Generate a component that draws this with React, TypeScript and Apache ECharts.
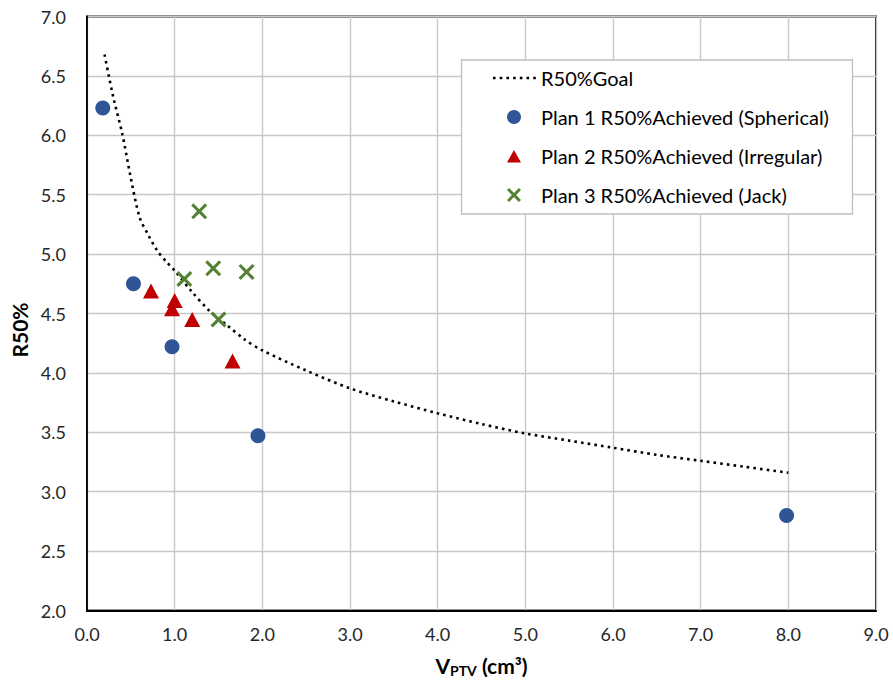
import React, { useEffect, useRef } from "react";
import * as echarts from "echarts";

const goalX = [0.2, 0.3, 0.4, 0.5, 0.6, 0.7, 0.8, 0.9, 1.0, 1.2, 1.4, 1.6, 1.8, 2.0, 2.5, 3.0, 3.5, 4.0, 4.5, 5.0, 5.5, 6.0, 6.5, 7.0, 7.5, 8.0];
const goalY = [6.68, 6.32, 6.02, 5.64, 5.31, 5.16, 5.03, 4.94, 4.86, 4.68, 4.52, 4.40, 4.28, 4.19, 4.02, 3.87, 3.76, 3.66, 3.57, 3.49, 3.43, 3.37, 3.31, 3.26, 3.21, 3.16];

const plan1X = [0.18, 0.53, 0.97, 1.95, 7.98];
const plan1Y = [6.23, 4.75, 4.22, 3.47, 2.80];

const plan2X = [0.73, 1.0, 0.97, 1.2, 1.66];
const plan2Y = [4.69, 4.61, 4.54, 4.45, 4.10];

const plan3X = [1.28, 1.11, 1.44, 1.82, 1.5];
const plan3Y = [5.36, 4.79, 4.88, 4.85, 4.45];

const seriesNames = [
  "R50%Goal",
  "Plan 1 R50%Achieved (Spherical)",
  "Plan 2 R50%Achieved (Irregular)",
  "Plan 3 R50%Achieved (Jack)",
];

const xTicks = [0, 1, 2, 3, 4, 5, 6, 7, 8, 9];
const yTicks = [2.0, 2.5, 3.0, 3.5, 4.0, 4.5, 5.0, 5.5, 6.0, 6.5, 7.0];

const BLUE = "#2F5597";
const RED = "#C00000";
const GREEN = "#548235";
const FONT = "Lato, 'Open Sans', sans-serif";

const xShape =
  "M2.2,0L8,5.8L13.8,0L16,2.2L10.2,8L16,13.8L13.8,16L8,10.2L2.2,16L0,13.8L5.8,8L0,2.2Z";
const ANCHORS = "M0,0L0.01,0M44,14L43.99,14";
const xLegend =
  "path://" +
  ANCHORS +
  "M17.1,0L22,4.9L26.9,0L29,2.1L24.1,7L29,11.9L26.9,14L22,9.1L17.1,14L15,11.9L19.9,7L15,2.1Z";
const triLegend = "path://" + ANCHORS + "M15,13.5L29,13.5L22,1Z";
const dotLegend =
  "path://" +
  ANCHORS +
  [0, 1, 2, 3, 4, 5, 6].map((i) => `M${(1 + i * 6.7).toFixed(2)},5.7h2.6v2.6h-2.6Z`).join("");

const zip = (xs: number[], ys: number[]) => xs.map((x, i) => [x, ys[i]]);

export default function App() {
  const ref = useRef<HTMLDivElement>(null);
  useEffect(() => {
    if (!ref.current) return;
    const chart = echarts.init(ref.current, null, { renderer: "svg" });
    chart.setOption({
      animation: false,
      backgroundColor: "#fff",
      textStyle: { fontFamily: FONT },
      grid: {
        left: 87,
        right: 17,
        top: 16.5,
        bottom: 78.5,
        show: true,
        borderColor: "#000",
        borderWidth: 1.8,
        containLabel: false,
      },
      xAxis: {
        type: "value",
        min: xTicks[0],
        max: xTicks[xTicks.length - 1],
        interval: 1,
        axisLine: { show: true, onZero: false, lineStyle: { color: "#000", width: 1.8 } },
        axisTick: { show: false },
        splitLine: { show: true, lineStyle: { color: "#c8c8c8", width: 1.4 } },
        axisLabel: {
          margin: 14,
          fontSize: 18,
          color: "#262626",
          fontFamily: FONT,
          formatter: (v: number) => v.toFixed(1),
        },
        name: "{v|V}{s|PTV}{v| (cm³)}",
        nameLocation: "middle",
        nameGap: 43,
        nameTextStyle: {
          rich: {
            v: { fontSize: 21, fontWeight: "bold", color: "#000", fontFamily: FONT },
            s: { fontSize: 14, fontWeight: "bold", color: "#000", fontFamily: FONT, padding: [10, 0, 0, 0] },
          },
        },
      },
      yAxis: {
        type: "value",
        min: yTicks[0],
        max: yTicks[yTicks.length - 1],
        interval: 0.5,
        axisLine: { show: true, onZero: false, lineStyle: { color: "#000", width: 1.8 } },
        axisTick: { show: false },
        splitLine: { show: true, lineStyle: { color: "#c8c8c8", width: 1.4 } },
        axisLabel: {
          margin: 21,
          fontSize: 18,
          color: "#262626",
          fontFamily: FONT,
          formatter: (v: number) => v.toFixed(1),
        },
        name: "{a|R50%}",
        nameLocation: "middle",
        nameGap: 57,
        nameTextStyle: {
          rich: {
            a: {
              fontSize: 21,
              fontWeight: "bold",
              color: "#000",
              fontFamily: FONT,
              padding: [0, 33, 0, 0],
            },
          },
        },
      },
      graphic: [
        {
          type: "rect",
          z: 3,
          shape: { x: 461.5, y: 60, width: 391, height: 154 },
          style: { fill: "#fff", stroke: "#bfbfbf", lineWidth: 1.3 },
        },
      ],
      legend: {
        orient: "vertical",
        left: 492,
        top: 68,
        padding: 0,
        itemWidth: 44,
        itemHeight: 14,
        itemGap: 19,
        z: 5,
        textStyle: { fontSize: 20, lineHeight: 20, color: "#000", fontFamily: FONT },
        data: [
          { name: seriesNames[0], icon: dotLegend, itemStyle: { color: "#000" } },
          { name: seriesNames[1], icon: "circle" },
          { name: seriesNames[2], icon: triLegend },
          { name: seriesNames[3], icon: xLegend },
        ],
      },
      series: [
        {
          name: seriesNames[0],
          type: "line",
          data: zip(goalX, goalY),
          symbol: "none",
          showSymbol: false,
          smooth: 0.3,
          lineStyle: { color: "#000", width: 2.6, type: [2.6, 4.1], cap: "butt" },
          itemStyle: { color: "#000" },
          z: 2,
        },
        {
          name: seriesNames[1],
          type: "scatter",
          data: zip(plan1X, plan1Y),
          symbol: "circle",
          symbolSize: 15,
          itemStyle: { color: BLUE, opacity: 1 },
          z: 3,
        },
        {
          name: seriesNames[2],
          type: "scatter",
          data: zip(plan2X, plan2Y),
          symbol: "triangle",
          symbolSize: [16, 15],
          itemStyle: { color: RED, opacity: 1 },
          z: 3,
        },
        {
          name: seriesNames[3],
          type: "scatter",
          data: zip(plan3X, plan3Y),
          symbol: "path://" + xShape,
          symbolSize: 16,
          itemStyle: { color: GREEN, opacity: 1 },
          z: 3,
        },
      ],
    });
    return () => chart.dispose();
  }, []);
  return (
    <div
      ref={ref}
      style={{ position: "fixed", left: 0, top: 0, width: 893, height: 689 }}
    />
  );
}
